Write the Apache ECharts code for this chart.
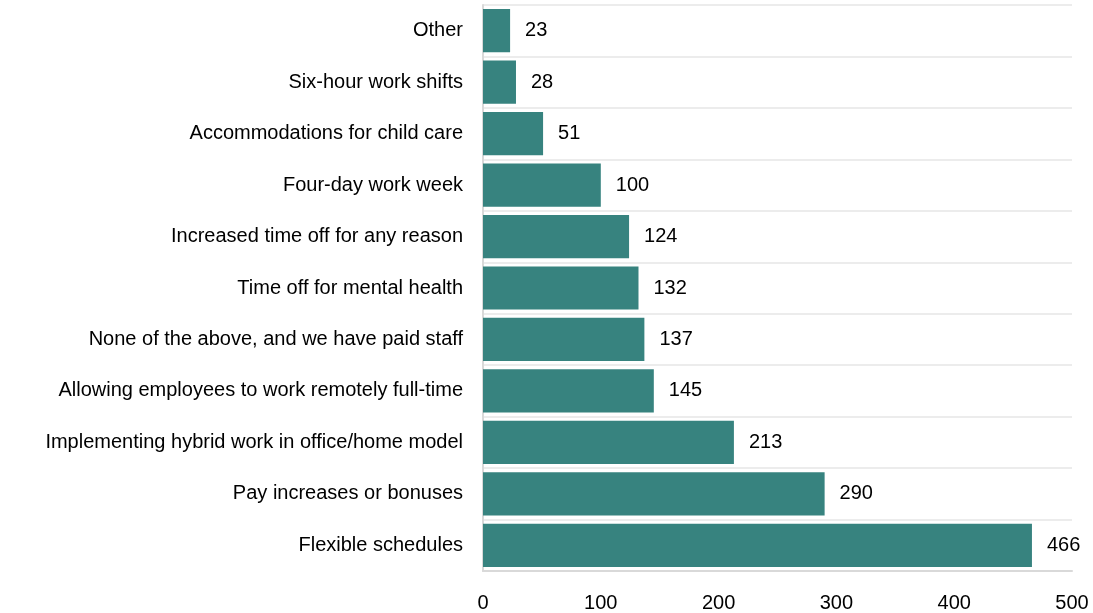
<!DOCTYPE html>
<html>
<head>
<meta charset="utf-8">
<script src="https://cdn.jsdelivr.net/npm/echarts@6/dist/echarts.min.js"></script>
<style>
  html, body { margin: 0; padding: 0; background: #fff; }
  #chart { width: 1093px; height: 613px; }
</style>
</head>
<body>
<div id="chart"></div>
<script>
// categories listed bottom to top
const categories = [
    'Flexible schedules',
    'Pay increases or bonuses',
    'Implementing hybrid work in office/home model',
    'Allowing employees to work remotely full-time',
    'None of the above, and we have paid staff',
    'Time off for mental health',
    'Increased time off for any reason',
    'Four-day work week',
    'Accommodations for child care',
    'Six-hour work shifts',
    'Other'
]
const counts = [466, 290, 213, 145, 137, 132, 124, 100, 51, 28, 23]

const font = 'Liberation Sans, Arial, sans-serif'

const myChart = echarts.init(document.getElementById('chart'))
myChart.setOption({
    animation: false,
    grid: { left: 483, right: 21, top: 5, bottom: 42, containLabel: false },
    xAxis: {
        type: 'value',
        min: 0,
        max: 500,
        interval: 100,
        axisLine: { show: true, lineStyle: { color: '#d9d9d9', width: 2 } },
        axisTick: { show: false },
        splitLine: { show: false },
        axisLabel: { color: '#000', fontSize: 20, fontFamily: font, margin: 22 }
    },
    yAxis: {
        type: 'category',
        data: categories,
        axisLine: { show: true, lineStyle: { color: '#d9d9d9', width: 2 } },
        axisTick: { show: false },
        splitLine: { show: true, lineStyle: { color: '#ececec', width: 2 } },
        axisLabel: { color: '#000', fontSize: 20, fontFamily: font, margin: 20 }
    },
    series: [{
        type: 'bar',
        data: counts,
        barCategoryGap: '16%',
        itemStyle: { color: '#37837f' },
        label: {
            show: true,
            position: 'right',
            distance: 15,
            color: '#000',
            fontSize: 20,
            fontFamily: font
        }
    }]
})
</script>
</body>
</html>
